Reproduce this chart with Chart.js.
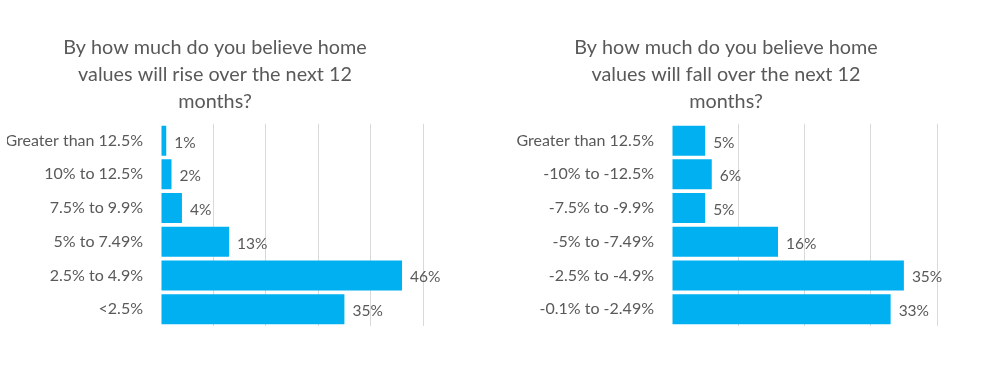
<!DOCTYPE html>
<html><head>
<meta charset="utf-8">
<script src="https://cdn.jsdelivr.net/npm/chart.js@4"></script>
<style>
body{margin:0;background:#fff;width:992px;height:381px;position:relative;overflow:hidden}
.c{position:absolute;top:0;height:381px}
</style></head><body>
<div class="c" style="left:-20px;width:472px"><canvas id="a"></canvas></div>
<div class="c" style="left:500px;width:452px"><canvas id="b"></canvas></div>
<script>
const riseTitle = ['By how much do you believe home','values will rise over the next 12','months?'];
const riseCategories = ['Greater than 12.5%','10% to 12.5%','7.5% to 9.9%','5% to 7.49%','2.5% to 4.9%','<2.5%'];
const riseValues = [1,2,4,13,46,35];
const riseMax = 50;

const fallTitle = ['By how much do you believe home','values will fall over the next 12','months?'];
const fallCategories = ['Greater than 12.5%','-10% to -12.5%','-7.5% to -9.9%','-5% to -7.49%','-2.5% to -4.9%','-0.1% to -2.49%'];
const fallValues = [5,6,5,16,35,33];
const fallMax = 40;

const tickStep = 10;
const FONT = "Lato, 'Open Sans', sans-serif";
const TEXT = '#595959';
const BAR = '#00B0F0';

const labelPlugin = {
  id:'barLabels',
  afterDatasetsDraw(chart){
    const ctx = chart.ctx;
    const meta = chart.getDatasetMeta(0);
    const data = chart.data.datasets[0].data;
    ctx.save();
    ctx.font = "15.5px " + FONT;
    ctx.fillStyle = TEXT;
    ctx.textBaseline = 'middle';
    ctx.textAlign = 'left';
    meta.data.forEach((bar,i)=>{
      ctx.fillText(data[i] + '%', bar.x + 8, bar.y + 2);
    });
    ctx.restore();
  }
};

function make(id, title, cats, vals, max, yWidth, padLeft, padRight){
  new Chart(document.getElementById(id), {
    type:'bar',
    data:{labels:cats, datasets:[{data:vals, backgroundColor:BAR, borderWidth:0,
      categoryPercentage:0.89, barPercentage:1}]},
    options:{
      indexAxis:'y',
      responsive:true, maintainAspectRatio:false, animation:false,
      layout:{padding:{top:34,bottom:55,left:padLeft,right:padRight}},
      plugins:{
        legend:{display:false}, tooltip:{enabled:false},
        title:{display:true, text:title, color:TEXT,
          font:{family:FONT, size:19.8, weight:'normal', lineHeight:1.36},
          padding:{top:0,bottom:9}}
      },
      scales:{
        x:{min:0, max:max, ticks:{display:false, stepSize:tickStep},
          border:{display:false},
          grid:{color:c=> c.tick && c.tick.value===0 ? 'rgba(0,0,0,0)' : '#D9D9D9', drawTicks:false, lineWidth:1}},
        y:{grid:{display:false}, border:{display:false},
          ticks:{color:TEXT, font:{family:FONT, size:16}, padding:10},
          afterFit(s){ s.width = yWidth; }}
      }
    },
    plugins:[labelPlugin]
  });
}
make('a', riseTitle, riseCategories, riseValues, riseMax, 154, 27, 29);
make('b', fallTitle, fallCategories, fallValues, fallMax, 157, 15, 15);
</script>
</body></html>
